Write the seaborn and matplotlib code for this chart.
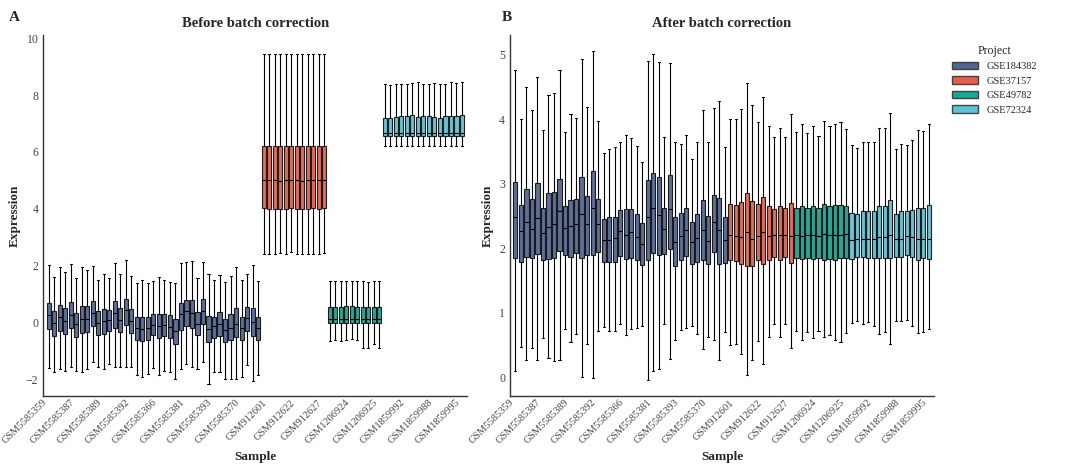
import numpy as np
import pandas as pd
import matplotlib
matplotlib.use("Agg")
import matplotlib.pyplot as plt
from matplotlib.patches import Patch
import seaborn as sns

projects = ["GSE184382", "GSE37157", "GSE49782", "GSE72324"]
group_sizes = [39, 12, 10, 15]
colors = ["#3C5488", "#E64B35", "#00A087", "#4DBBD5"]
tick_labels = ["GSM5585359", "GSM5585387", "GSM5585389", "GSM5585392", "GSM5585366",
               "GSM5585381", "GSM5585393", "GSM5585370", "GSM912601", "GSM912622",
               "GSM912627", "GSM1206924", "GSM1206925", "GSM1859992", "GSM1859988",
               "GSM1859995"]

# ---- before correction: lo, q1, median, q3, hi per sample
before_lo = [-1.6, -1.75, -1.65, -1.7, -1.55, -1.72, -1.75, -1.62, -1.4, -1.58, -1.65, -1.45,
             -1.58, -1.55, -1.55, -1.55, -1.85, -1.9, -1.8, -1.6, -1.85, -1.7, -1.75, -2.0,
             -1.65, -1.45, -1.55, -1.65, -1.4, -2.15, -1.75, -1.75, -2.0, -2.0, -2.0, -1.9,
             -1.5, -2.05, -1.85,
             2.4, 2.42, 2.42, 2.45, 2.4, 2.48, 2.42, 2.4, 2.4, 2.4, 2.4, 2.45,
             -0.65, -0.62, -0.66, -0.6, -0.58, -0.6, -0.88, -0.88, -0.75, -0.88,
             6.2, 6.22, 6.2, 6.2, 6.22, 6.2, 6.2, 6.22, 6.2, 6.2, 6.2, 6.22, 6.2, 6.2, 6.2]
before_q1 = [-0.22, -0.48, -0.28, -0.4, -0.2, -0.5, -0.38, -0.32, -0.12, -0.44, -0.4, -0.3,
             -0.18, -0.32, -0.1, -0.35, -0.62, -0.64, -0.6, -0.45, -0.55, -0.48, -0.55, -0.74,
             -0.25, -0.12, -0.18, -0.45, -0.05, -0.7, -0.55, -0.48, -0.7, -0.62, -0.5, -0.62,
             -0.28, -0.48, -0.62,
             4.02, 4.0, 4.0, 3.98, 4.0, 4.02, 4.0, 4.0, 4.0, 4.02, 4.0, 4.02,
             -0.02, -0.02, -0.02, -0.02, -0.02, -0.02, -0.02, -0.02, -0.02, -0.02,
             6.55, 6.55, 6.57, 6.55, 6.55, 6.57, 6.55, 6.55, 6.57, 6.55, 6.55, 6.57, 6.55, 6.55, 6.55]
before_med = [0.27, -0.02, 0.18, 0.06, 0.26, -0.06, 0.12, 0.13, 0.34, -0.02, 0.06, 0.08,
              0.33, 0.09, 0.43, 0.06, -0.19, -0.21, -0.18, -0.09, -0.12, -0.09, -0.14, -0.29,
              0.29, 0.39, 0.32, -0.04, 0.4, -0.23, -0.12, -0.04, -0.25, -0.18, -0.04, -0.18,
              0.15, 0.01, -0.18,
              5.0, 5.02, 5.0, 4.98, 5.0, 5.0, 5.0, 4.99, 5.0, 5.0, 5.0, 5.0,
              0.12, 0.13, 0.12, 0.14, 0.12, 0.12, 0.12, 0.12, 0.12, 0.12,
              6.65, 6.66, 6.65, 6.67, 6.65, 6.66, 6.65, 6.66, 6.65, 6.66, 6.65, 6.66, 6.65, 6.65, 6.66]
before_q3 = [0.68, 0.4, 0.6, 0.5, 0.72, 0.32, 0.58, 0.58, 0.75, 0.4, 0.48, 0.44,
             0.75, 0.5, 0.84, 0.47, 0.2, 0.2, 0.2, 0.3, 0.3, 0.3, 0.25, 0.14,
             0.7, 0.8, 0.78, 0.36, 0.82, 0.22, 0.18, 0.38, 0.12, 0.3, 0.5, 0.2,
             0.55, 0.52, 0.2,
             6.2, 6.2, 6.22, 6.2, 6.2, 6.2, 6.2, 6.2, 6.2, 6.2, 6.2, 6.22,
             0.56, 0.56, 0.56, 0.57, 0.57, 0.56, 0.56, 0.56, 0.56, 0.56,
             7.18, 7.2, 7.22, 7.25, 7.28, 7.3, 7.22, 7.25, 7.28, 7.22, 7.2, 7.25, 7.28, 7.28, 7.3]
before_hi = [2.02, 1.6, 1.95, 1.78, 2.05, 1.55, 1.95, 1.85, 2.0, 1.5, 1.72, 1.55,
             2.1, 1.72, 2.2, 1.65, 1.4, 1.48, 1.38, 1.45, 1.6, 1.5, 1.42, 1.38,
             2.1, 2.12, 2.15, 1.55, 2.12, 1.7, 1.5, 1.68, 1.42, 1.65, 1.95, 1.5,
             1.72, 2.02, 1.45,
             9.45, 9.45, 9.45, 9.45, 9.45, 9.45, 9.45, 9.45, 9.45, 9.45, 9.45, 9.45,
             1.45, 1.45, 1.45, 1.46, 1.47, 1.45, 1.45, 1.44, 1.45, 1.45,
             8.38, 8.35, 8.38, 8.4, 8.38, 8.42, 8.45, 8.4, 8.38, 8.42, 8.4, 8.38, 8.45, 8.42, 8.45]

# ---- after correction
after_lo = [0.1, 0.46, 0.27, 0.45, 0.27, 0.6, 0.29, 0.25, 0.27, 0.75, 0.55, 0.67,
            0.0, 0.52, -0.02, 0.72, 0.78, 0.72, 0.71, 0.83, 0.65, 0.74, 0.76, 0.8,
            -0.05, 0.1, 0.12, 0.82, 0.28, 0.57, 0.73, 0.76, 0.79, 0.67, 0.44, 0.62,
            0.57, 0.27, 0.7,
            0.5, 0.51, 0.36, 0.04, 0.27, 0.56, 0.2, 0.63, 0.83, 0.62, 0.83, 0.45,
            0.72, 0.57, 0.7, 0.6, 0.72, 0.62, 0.65, 0.58, 0.55, 0.68,
            0.84, 0.87, 0.82, 0.85, 0.8, 0.67, 0.7, 0.52, 0.87, 0.87, 0.88, 0.8, 0.68, 0.7, 0.75]
after_q1 = [1.85, 1.78, 1.86, 1.84, 1.91, 1.82, 1.83, 1.84, 1.95, 1.89, 1.87, 1.92,
            1.85, 1.89, 1.89, 1.94, 1.79, 1.78, 1.78, 1.88, 1.83, 1.85, 1.82, 1.74,
            1.81, 1.92, 1.9, 1.91, 1.99, 1.72, 1.82, 1.88, 1.75, 1.78, 1.82, 1.75,
            1.94, 1.76, 1.77,
            1.81, 1.8, 1.75, 1.72, 1.73, 1.81, 1.76, 1.82, 1.87, 1.82, 1.87, 1.77,
            1.84, 1.83, 1.85, 1.83, 1.84, 1.82, 1.83, 1.81, 1.84, 1.85,
            1.83, 1.86, 1.86, 1.85, 1.85, 1.85, 1.85, 1.85, 1.86, 1.86, 1.89, 1.86, 1.82, 1.85, 1.83]
after_med = [2.49, 2.26, 2.4, 2.3, 2.47, 2.24, 2.33, 2.37, 2.57, 2.31, 2.35, 2.38,
             2.53, 2.37, 2.62, 2.38, 2.13, 2.12, 2.16, 2.26, 2.21, 2.25, 2.18, 2.07,
             2.49, 2.62, 2.52, 2.29, 2.6, 2.1, 2.19, 2.28, 2.09, 2.16, 2.28, 2.11,
             2.4, 2.28, 2.13,
             2.2, 2.19, 2.18, 2.25, 2.14, 2.19, 2.25, 2.19, 2.21, 2.21, 2.21, 2.19,
             2.2, 2.19, 2.21, 2.2, 2.19, 2.22, 2.2, 2.21, 2.2, 2.22,
             2.13, 2.14, 2.15, 2.15, 2.15, 2.18, 2.17, 2.2, 2.14, 2.15, 2.19, 2.18, 2.14, 2.15, 2.15]
after_q3 = [3.02, 2.67, 2.92, 2.76, 3.01, 2.62, 2.85, 2.87, 3.08, 2.66, 2.75, 2.77,
            3.1, 2.81, 3.19, 2.76, 2.46, 2.48, 2.49, 2.59, 2.6, 2.6, 2.53, 2.39,
            3.05, 3.16, 3.1, 2.63, 3.14, 2.49, 2.54, 2.63, 2.4, 2.53, 2.74, 2.5,
            2.82, 2.78, 2.49,
            2.68, 2.67, 2.72, 2.86, 2.73, 2.68, 2.8, 2.65, 2.61, 2.65, 2.62, 2.7,
            2.63, 2.66, 2.63, 2.66, 2.62, 2.69, 2.66, 2.67, 2.67, 2.65,
            2.54, 2.53, 2.58, 2.57, 2.57, 2.66, 2.66, 2.75, 2.53, 2.57, 2.58, 2.59, 2.62, 2.63, 2.67]
after_hi = [4.77, 4.0, 4.5, 4.15, 4.65, 3.83, 4.38, 4.41, 4.77, 3.8, 4.08, 4.02,
            4.94, 4.19, 5.06, 3.98, 3.48, 3.54, 3.57, 3.64, 3.76, 3.71, 3.59, 3.34,
            4.9, 5.01, 4.88, 3.72, 4.87, 3.65, 3.62, 3.76, 3.38, 3.65, 4.14, 3.64,
            4.18, 4.28, 3.57,
            4.0, 4.0, 4.16, 4.56, 4.22, 3.96, 4.35, 3.9, 3.72, 3.87, 3.73, 4.08,
            3.8, 3.92, 3.78, 3.9, 3.74, 3.97, 3.9, 3.93, 3.95, 3.85,
            3.6, 3.55, 3.65, 3.64, 3.64, 3.87, 3.87, 4.1, 3.54, 3.62, 3.6, 3.68, 3.83, 3.82, 3.92]

n_samples = sum(group_sizes)
sample_colors = [c for c, k in zip(colors, group_sizes) for _ in range(k)]


def make_df(lo, q1, med, q3, hi):
    rows = []
    for i in range(len(lo)):
        # five points -> seaborn quartiles equal q1/q3, full-range whiskers
        for v in (lo[i], q1[i], med[i], q3[i], hi[i]):
            rows.append({"sample": i, "value": v})
    return pd.DataFrame(rows)


sns.set_theme(style="white")
plt.rcParams["font.family"] = ["Liberation Serif", "DejaVu Serif"]

fig, (ax1, ax2) = plt.subplots(1, 2, figsize=(10.8, 4.72), dpi=100)

panels = [(ax1, make_df(before_lo, before_q1, before_med, before_q3, before_hi), "Before batch correction"),
          (ax2, make_df(after_lo, after_q1, after_med, after_q3, after_hi), "After batch correction")]

for ax, df, title in panels:
    sns.boxplot(data=df, x="sample", y="value", hue="sample", palette=sample_colors,
                whis=(0, 100), width=0.75, linewidth=0.8, linecolor="black",
                saturation=0.85, legend=False, ax=ax)
    for p in ax.patches:
        p.set_alpha(0.85)
    ax.set_xticks(range(0, n_samples, 5))
    ax.set_xticklabels(tick_labels, rotation=45, ha="right", fontsize=7.5, color="#444444")
    ax.tick_params(axis="y", labelsize=8.5, colors="#444444", length=0)
    ax.tick_params(axis="x", length=0, pad=1)
    ax.set_xlim(-1, n_samples)
    ax.set_xlabel("Sample", fontsize=9.5, fontweight="bold")
    ax.set_ylabel("Expression", fontsize=9.5, fontweight="bold")
    ax.set_title(title, fontsize=10.5, fontweight="bold")
    sns.despine(ax=ax)
    for s in ("left", "bottom"):
        ax.spines[s].set_color("#333333")
        ax.spines[s].set_linewidth(1.0)

ax1.set_ylim(-2.6, 10.1)
ax2.set_ylim(-0.3, 5.3)

handles = [Patch(facecolor=c, edgecolor="#333333", alpha=0.9) for c in colors]
ax2.legend(handles, projects, title="Project", loc="upper left", bbox_to_anchor=(1.02, 1.0),
           frameon=False, fontsize=7.5, title_fontsize=8.5, handlelength=2.5)

fig.text(0.008, 0.955, "A", fontsize=11, fontweight="bold")
fig.text(0.465, 0.955, "B", fontsize=11, fontweight="bold")

fig.subplots_adjust(left=0.04, right=0.865, top=0.925, bottom=0.16, wspace=0.1)
fig.savefig("out.png", dpi=100)
